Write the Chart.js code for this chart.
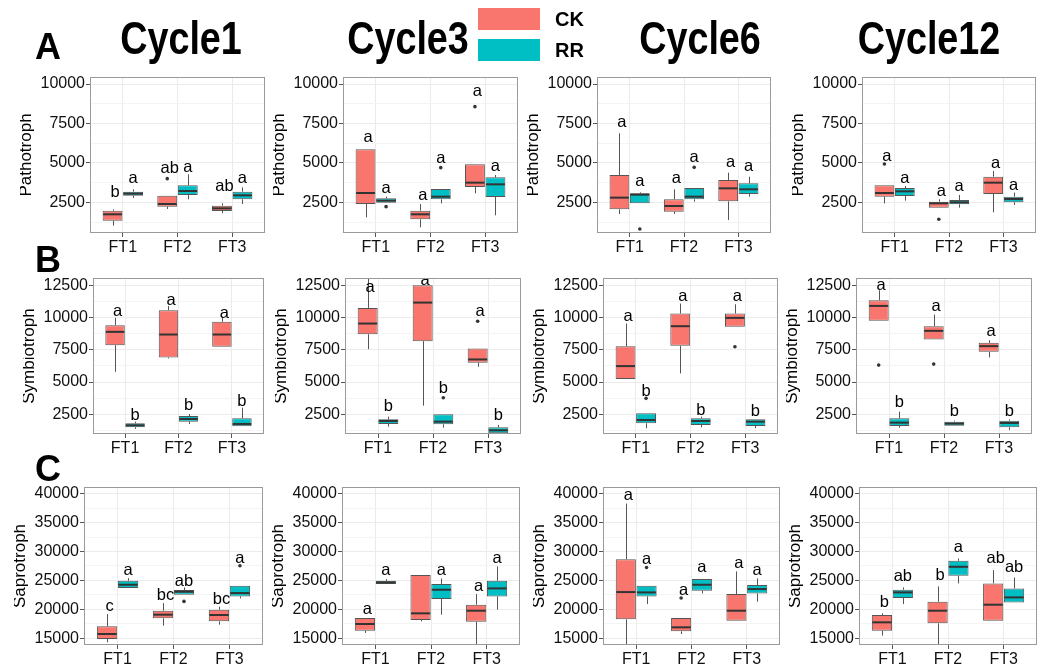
<!DOCTYPE html>
<html>
<head>
<meta charset="utf-8">
<script src="https://cdn.jsdelivr.net/npm/chart.js@4.4.1/dist/chart.umd.min.js"></script>
<style>
html, body { margin: 0; padding: 0; background: #fff; }
body { width: 1042px; height: 664px; position: relative; overflow: hidden; font-family: "Liberation Sans", Arial, sans-serif; }
canvas { position: absolute; }
.txt { position: absolute; font-weight: bold; color: #000; white-space: nowrap; line-height: 1; }
.key { position: absolute; }
</style>
</head>
<body>
<script>
// ---- categories / labels ----
const cycles = ['Cycle1', 'Cycle3', 'Cycle6', 'Cycle12'];
const groups = ['FT1', 'FT2', 'FT3'];
const seriesNames = ['CK', 'RR'];
const traits = ['Pathotroph', 'Symbiotroph', 'Saprotroph'];
const panelTags = ['A', 'B', 'C'];

// ---- y tick labels per trait ----
const pathoTicks = [2500, 5000, 7500, 10000];
const symbTicks = [2500, 5000, 7500, 10000, 12500];
const sapTicks = [15000, 20000, 25000, 30000, 35000, 40000];

// ---- box statistics: [cycle][group] -> [min, q1, median, q3, max] ----
const pathoCK = [
  [[1020, 1337, 1738, 1970, 2055], [2076, 2224, 2393, 2922, 2922], [1801, 1949, 2118, 2287, 2435]],
  [[1548, 2393, 3090, 5859, 5859], [914, 1421, 1738, 1970, 2393], [3069, 3471, 3745, 4908, 4908]],
  [[1759, 2055, 2795, 4231, 6873], [1759, 1907, 2266, 2689, 3323], [1379, 2562, 3386, 3914, 4379]],
  [[2435, 2858, 3090, 3576, 3576], [2160, 2160, 2435, 2541, 2689], [1865, 3027, 3745, 4126, 4485]]
];
const pathoRR = [
  [[2773, 2922, 3048, 3175, 3323], [2689, 2963, 3217, 3576, 4274], [2393, 2689, 2942, 3175, 3450]],
  [[2478, 2478, 2605, 2752, 2858], [2435, 2689, 2858, 3344, 3344], [1675, 2837, 3640, 4084, 4231]],
  [[2435, 2435, 2985, 3069, 3133], [2541, 2689, 2858, 3407, 3407], [2858, 3027, 3323, 3703, 4126]],
  [[2605, 2900, 3196, 3407, 3534], [2160, 2372, 2499, 2647, 2964], [2330, 2499, 2710, 2858, 3112]]
];
const symbCK = [
  [[5800, 7861, 8892, 9408, 9975], [6830, 6908, 8686, 10567, 10902], [7732, 7732, 8686, 9665, 10052]],
  [[7552, 8712, 9536, 10748, 14000], [3171, 8171, 11160, 12500, 12500], [6186, 6496, 6754, 7604, 7604]],
  [[5233, 5233, 6238, 7784, 9536], [5671, 7810, 9330, 10310, 11083], [9279, 9279, 9974, 10310, 11031]],
  [[9743, 9743, 10902, 11340, 12113], [8300, 8300, 8970, 9330, 10232], [6908, 7346, 7784, 8042, 8248]]
];
const symbRR = [
  [[1367, 1496, 1651, 1805, 1934], [1754, 1934, 2140, 2372, 2527], [1573, 1573, 1754, 2192, 3016]],
  [[1547, 1754, 1986, 2114, 2321], [1470, 1728, 1934, 2500, 2500], [900, 1032, 1264, 1496, 1676]],
  [[1419, 1805, 2063, 2578, 2578], [1496, 1677, 1986, 2192, 2321], [1419, 1599, 1934, 2114, 2114]],
  [[1470, 1599, 1857, 2192, 2708], [1625, 1625, 1780, 1934, 2011], [1290, 1496, 1831, 2011, 2114]]
];
const sapCK = [
  [[14311, 14886, 15747, 17070, 19196], [17185, 18449, 19081, 19770, 21092], [17357, 17932, 19023, 19943, 20460]],
  [[15920, 16322, 17472, 18506, 18506], [17932, 18162, 19311, 25920, 25920], [13000, 17874, 19770, 20805, 22644]],
  [[13000, 18276, 22989, 28678, 38276], [15747, 16207, 16897, 18506, 18506], [18047, 18047, 19770, 22644, 26552]],
  [[15460, 16322, 17759, 19023, 19311], [13000, 17587, 19770, 21322, 23966], [18047, 18047, 20805, 24483, 26782]]
];
const sapRR = [
  [[23678, 23678, 24253, 24943, 25403], [22529, 22529, 23046, 23334, 23793], [21897, 22242, 22816, 24081, 24081]],
  [[24368, 24368, 24656, 24943, 25230], [19081, 21782, 23391, 24368, 25345], [19943, 22242, 23621, 24943, 27414]],
  [[20920, 22242, 22931, 24081, 24081], [22759, 23219, 24253, 25230, 25230], [21322, 22759, 23506, 24196, 25345]],
  [[20920, 21954, 22931, 23391, 23793], [24483, 25805, 27357, 28391, 28793], [21207, 21207, 22069, 23621, 25517]]
];

// ---- outliers: [cycle][group] -> values ----
const pathoCKOut = [[[], [4000], []], [[], [], [8563]], [[], [], []], [[4929], [1421], []]];
const pathoRROut = [[[], [], []], [[2224], [4696], []], [[808], [4717], []], [[], [], []]];
const symbCKOut = [[[], [], []], [[], [], [9717]], [[], [], [7732]], [[6315], [6392], []]];
const symbRROut = [[[], [], []], [[], [3790], []], [[3738], [], []], [[], [], []]];
const sapCKOut = [[[], [], []], [[], [], []], [[], [21954], []], [[], [], []]];
const sapRROut = [[[], [21380], [27529]], [[], [], []], [[27242], [], []], [[], [], []]];

// ---- significance letters and the height they sit at ----
const pathoCKTag = [['b', 'ab', 'ab'], ['a', 'a', 'a'], ['a', 'a', 'a'], ['a', 'a', 'a']];
const pathoCKTagY = [[3111, 4654, 3492], [6619, 2964, 9514], [7549, 4020, 5034], [5436, 3217, 4971]];
const pathoRRTag = [['a', 'a', 'a'], ['a', 'a', 'a'], ['a', 'a', 'a'], ['a', 'a', 'a']];
const pathoRRTagY = [[4020, 4717, 4020], [3386, 5288, 4802], [3809, 5351, 4760], [4020, 3492, 3598]];
const symbCKTag = [['a', 'a', 'a'], ['a', 'a', 'a'], ['a', 'a', 'a'], ['a', 'a', 'a']];
const symbCKTagY = [[10438, 11340, 10310], [12294, 12887, 10490], [10103, 11650, 11650], [12500, 10825, 8892]];
const symbRRTag = [['b', 'b', 'b'], ['b', 'b', 'b'], ['b', 'b', 'b'], ['b', 'b', 'b']];
const symbRRTagY = [[2450, 3171, 3532], [3094, 4511, 2398], [4305, 2836, 2707], [3429, 2707, 2707]];
const sapCKTag = [['c', 'bc', 'bc'], ['a', '', 'a'], ['a', 'a', 'a'], ['b', 'b', 'ab']];
const sapCKTagY = [[20460, 22472, 21782], [19943, 0, 23966], [39598, 23334, 27931], [21207, 25920, 28793]];
const sapRRTag = [['a', 'ab', 'a'], ['a', 'a', 'a'], ['a', 'a', 'a'], ['ab', 'a', 'ab']];
const sapRRTagY = [[26667, 24828, 28793], [26667, 26782, 28793], [28678, 27242, 26667], [25690, 30690, 27242]];

// ---- layout (pixels) ----
const FONT = '"Liberation Sans", Arial, sans-serif';
const rowTop = [77, 278, 487];
const rowBottom = [233, 434, 645];
const plotLeft = [[90, 343, 597, 862], [93, 345, 603, 856], [84, 342, 603, 859]];
const plotRight = [[265, 518, 771, 1036], [264, 521, 778, 1032], [263, 520, 780, 1037]];
const rowRange = [[554, 10444], [976, 13065], [13845, 41138]];
const CK_COLOR = '#F8766D', RR_COLOR = '#00BFC4';

const rowData = [
  { ticks: pathoTicks, ck: pathoCK, rr: pathoRR, ckOut: pathoCKOut, rrOut: pathoRROut,
    ckTag: pathoCKTag, ckTagY: pathoCKTagY, rrTag: pathoRRTag, rrTagY: pathoRRTagY },
  { ticks: symbTicks, ck: symbCK, rr: symbRR, ckOut: symbCKOut, rrOut: symbRROut,
    ckTag: symbCKTag, ckTagY: symbCKTagY, rrTag: symbRRTag, rrTagY: symbRRTagY },
  { ticks: sapTicks, ck: sapCK, rr: sapRR, ckOut: sapCKOut, rrOut: sapRROut,
    ckTag: sapCKTag, ckTagY: sapCKTagY, rrTag: sapRRTag, rrTagY: sapRRTagY }
];

Chart.defaults.font.family = FONT;

// whiskers under the boxes; medians, outliers and letters over them
const boxParts = {
  id: 'boxParts',
  beforeDatasetsDraw(chart) {
    const { ctx, chartArea: a, scales: { y } } = chart;
    ctx.save();
    ctx.beginPath(); ctx.rect(a.left, a.top, a.right - a.left, a.bottom - a.top); ctx.clip();
    ctx.strokeStyle = '#555'; ctx.lineWidth = 1;
    chart.data.datasets.forEach((ds, d) => {
      chart.getDatasetMeta(d).data.forEach((bar, i) => {
        const s = ds.stats[i];
        const x = Math.round(bar.x) + 0.5;
        ctx.beginPath();
        ctx.moveTo(x, y.getPixelForValue(s[0])); ctx.lineTo(x, y.getPixelForValue(s[1]));
        ctx.moveTo(x, y.getPixelForValue(s[3])); ctx.lineTo(x, y.getPixelForValue(s[4]));
        ctx.stroke();
      });
    });
    ctx.restore();
  },
  afterDatasetsDraw(chart) {
    const { ctx, chartArea: a, scales: { y } } = chart;
    ctx.save();
    ctx.beginPath(); ctx.rect(a.left, a.top, a.right - a.left, a.bottom - a.top); ctx.clip();
    chart.data.datasets.forEach((ds, d) => {
      chart.getDatasetMeta(d).data.forEach((bar, i) => {
        const s = ds.stats[i];
        const half = bar.width / 2;
        // median
        ctx.strokeStyle = '#333'; ctx.lineWidth = 2;
        const ym = y.getPixelForValue(s[2]);
        ctx.beginPath(); ctx.moveTo(bar.x - half + 0.5, ym); ctx.lineTo(bar.x + half - 0.5, ym); ctx.stroke();
        // outliers
        ctx.fillStyle = '#333';
        ds.outliers[i].forEach(v => {
          ctx.beginPath(); ctx.arc(bar.x, y.getPixelForValue(v), 1.8, 0, Math.PI * 2); ctx.fill();
        });
        // letters
        const t = ds.tags[i];
        if (t) {
          ctx.fillStyle = '#000';
          ctx.font = '16.5px ' + FONT;
          ctx.textAlign = 'center'; ctx.textBaseline = 'middle';
          ctx.fillText(t, bar.x + ds.tagShift, y.getPixelForValue(ds.tagY[i]));
        }
      });
    });
    ctx.restore();
  },
  afterDraw(chart) {
    const { ctx, chartArea: a } = chart;
    ctx.save();
    ctx.strokeStyle = '#9a9a9a'; ctx.lineWidth = 1;
    ctx.strokeRect(a.left + 0.5, a.top + 0.5, a.right - a.left - 1, a.bottom - a.top - 1);
    // y axis title
    ctx.fillStyle = '#000';
    ctx.font = '17px ' + FONT;
    ctx.textAlign = 'center'; ctx.textBaseline = 'middle';
    ctx.translate(a.left - 64, (a.top + a.bottom) / 2);
    ctx.rotate(-Math.PI / 2);
    ctx.fillText(chart.options.yTitle, 0, 0);
    ctx.restore();
  }
};

function minorOf(major, lo, hi) {
  const step = major[1] - major[0];
  const out = [];
  for (let v = major[0] - step / 2; v <= hi; v += step) if (v >= lo) out.push(v);
  return out;
}

function makePanel(r, c) {
  const L = plotLeft[r][c], R = plotRight[r][c], T = rowTop[r], B = rowBottom[r];
  const pw = R - L, ph = B - T;
  const AX = 70, PT = 14, PR = 8, XH = 26;
  const cv = document.createElement('canvas');
  cv.width = AX + pw + PR; cv.height = PT + ph + XH;
  cv.style.width = cv.width + 'px'; cv.style.height = cv.height + 'px';
  cv.style.left = (L - AX) + 'px'; cv.style.top = (T - PT) + 'px';
  document.body.appendChild(cv);

  const rd = rowData[r];
  const [lo, hi] = rowRange[r];
  const major = rd.ticks;
  const minor = minorOf(major, lo, hi);
  const mk = (name, stats, out, tag, tagY, color, shift) => ({
    label: name,
    data: stats.map((b, i) => ({ x: i + 1, y: [b[1], b[3]] })),
    stats, outliers: out, tags: tag, tagY, tagShift: shift,
    backgroundColor: color, borderColor: '#555', borderWidth: 1, borderSkipped: false,
    categoryPercentage: 0.75, barPercentage: 0.97
  });

  const chart = new Chart(cv, {
    type: 'bar',
    data: {
      datasets: [
        mk(seriesNames[0], rd.ck[c], rd.ckOut[c], rd.ckTag[c], rd.ckTagY[c], CK_COLOR, 2.5),
        mk(seriesNames[1], rd.rr[c], rd.rrOut[c], rd.rrTag[c], rd.rrTagY[c], RR_COLOR, 0)
      ]
    },
    options: {
      yTitle: traits[r],
      responsive: false, animation: false, events: [],
      layout: { padding: { top: PT, right: PR, left: 0, bottom: 0 } },
      plugins: { legend: { display: false }, tooltip: { enabled: false } },
      scales: {
        x: {
          type: 'linear', min: 0.4, max: 3.6, offset: false,
          afterBuildTicks: s => { s.ticks = [1, 2, 3].map(v => ({ value: v })); },
          afterFit: s => { s.height = XH; },
          ticks: { callback: v => groups[v - 1], font: { size: 16 }, color: '#111', padding: 1, autoSkip: false, maxRotation: 0 },
          grid: { color: '#ebebeb', lineWidth: 1, tickLength: 4, tickColor: '#555', offset: false },
          border: { display: false }
        },
        y: {
          type: 'linear', min: lo, max: hi,
          afterBuildTicks: s => {
            s.ticks = major.map(v => ({ value: v })).concat(minor.map(v => ({ value: v, minor: true })))
              .sort((p, q) => p.value - q.value);
          },
          afterFit: s => { s.width = AX; },
          ticks: {
            callback: (v, i, ticks) => (ticks[i].minor ? '' : String(v)),
            font: { size: 16 }, color: '#111', padding: 1, autoSkip: false
          },
          grid: {
            color: ctx => (ctx.tick && ctx.tick.minor ? '#f4f4f4' : '#ebebeb'),
            lineWidth: 1,
            tickLength: 4,
            tickColor: ctx => (ctx.tick && ctx.tick.minor ? 'rgba(0,0,0,0)' : '#555')
          },
          border: { display: false }
        }
      }
    },
    plugins: [boxParts]
  });

  // nudge canvas so that the plot area lands exactly on its slot
  const a = chart.chartArea;
  cv.style.left = (L - a.left) + 'px';
  cv.style.top = (T - a.top) + 'px';
}

for (let r = 0; r < 3; r++) for (let c = 0; c < 4; c++) makePanel(r, c);

// ---- titles, panel tags and legend ----
function addText(text, x, baseline, size, align, sx) {
  const d = document.createElement('div');
  d.className = 'txt';
  d.textContent = text;
  d.style.fontSize = size + 'px';
  d.style.top = (baseline - 0.8465 * size) + 'px';
  d.style.left = x + 'px';
  const scale = sx ? ` scaleX(${sx})` : '';
  if (align === 'center') d.style.transform = 'translateX(-50%)' + scale;
  else { d.style.transformOrigin = '0 0'; d.style.transform = scale; }
  document.body.appendChild(d);
}
const titleCenters = [181, 408, 700, 929];
cycles.forEach((t, i) => addText(t, titleCenters[i], 54, 46, 'center', 0.82));
const tagBaselines = [59, 272, 481];
panelTags.forEach((t, i) => addText(t, 35, tagBaselines[i], 36, 'left'));

[[CK_COLOR, 8], [RR_COLOR, 39]].forEach(([col, top], i) => {
  const k = document.createElement('div');
  k.className = 'key';
  k.style.cssText = `left:478px;top:${top}px;width:62px;height:22px;background:${col};`;
  document.body.appendChild(k);
  addText(seriesNames[i], 555, top + 18, 20, 'left');
});
</script>
</body>
</html>
